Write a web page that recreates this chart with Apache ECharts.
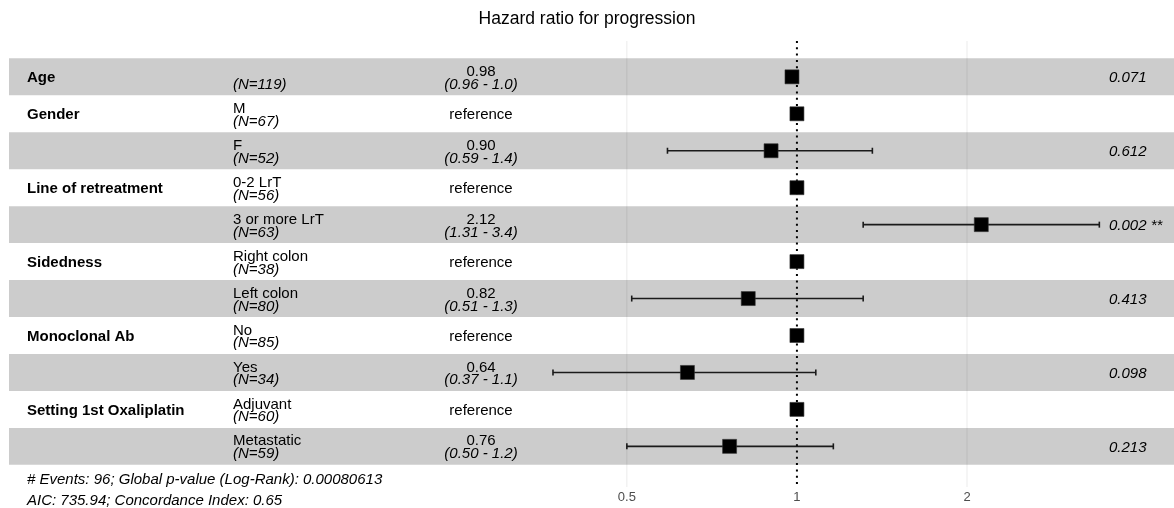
<!DOCTYPE html>
<html>
<head>
<meta charset="utf-8">
<script src="https://cdn.jsdelivr.net/npm/echarts@6/dist/echarts.min.js"></script>
<style>
html,body{margin:0;padding:0;background:#fff;}
#chart{width:1174px;height:508px;}
</style>
</head>
<body>
<div id="chart"></div>
<script>
// ---- data ----
const varNames = ['Age', 'Gender', '', 'Line of retreatment', '', 'Sidedness', '', 'Monoclonal Ab', '', 'Setting 1st Oxaliplatin', ''];
const levels = ['', 'M', 'F', '0-2 LrT', '3 or more LrT', 'Right colon', 'Left colon', 'No', 'Yes', 'Adjuvant', 'Metastatic'];
const nCounts = [119, 67, 52, 56, 63, 38, 80, 85, 34, 60, 59];
const hrValues = [0.98, 1, 0.90, 1, 2.12, 1, 0.82, 1, 0.64, 1, 0.76];
const ciLow = [0.96, null, 0.59, null, 1.31, null, 0.51, null, 0.37, null, 0.50];
const ciHigh = [1.00, null, 1.36, null, 3.43, null, 1.31, null, 1.08, null, 1.16];
const hrLabels = ['0.98', 'reference', '0.90', 'reference', '2.12', 'reference', '0.82', 'reference', '0.64', 'reference', '0.76'];
const ciLabels = ['(0.96 - 1.0)', '', '(0.59 - 1.4)', '', '(1.31 - 3.4)', '', '(0.51 - 1.3)', '', '(0.37 - 1.1)', '', '(0.50 - 1.2)'];
const pLabels = ['0.071', '', '0.612', '', '0.002 **', '', '0.413', '', '0.098', '', '0.213'];
const tickValues = [0.5, 1, 2];
const refValue = 1;
const titleText = 'Hazard ratio for progression';
const footerLines = ['# Events: 96; Global p-value (Log-Rank): 0.00080613', 'AIC: 735.94; Concordance Index: 0.65'];

// ---- layout / style ----
const FONT = "'Liberation Sans', Arial, Helvetica, sans-serif";
const COL_VAR = 27, COL_LEVEL = 233, COL_HR = 481, COL_P = 1109;
const LINE_OFF_UP = 5, LINE_OFF_DN = 7.8, SINGLE_OFF = 1;
const TXT = '#000';

const rowIdx = levels.map((_, i) => i + 1);
const grayRows = rowIdx.filter(r => r % 2 === 1);
const ciRows = rowIdx.filter((r, i) => ciLow[i] != null);

const chart = echarts.init(document.getElementById('chart'), null, {renderer: 'canvas'});

function txt(x, y, text, opt) {
  return {
    type: 'text', x: x, y: y, silent: true,
    style: Object.assign({
      text: text, fill: TXT, fontSize: 15, fontFamily: FONT,
      align: 'left', verticalAlign: 'middle'
    }, opt || {})
  };
}

const option = {
  animation: false,
  backgroundColor: '#fff',
  title: {
    text: titleText, left: 'center', top: 10, padding: 0,
    textStyle: {fontSize: 17.5, fontWeight: 'normal', color: '#000', fontFamily: FONT}
  },
  grid: {left: 9, right: 0, top: 41, bottom: 21},
  xAxis: {
    type: 'log', logBase: 2, min: 0.0403, max: 4.65,
    axisLine: {show: false}, axisTick: {show: false}, splitLine: {show: false},
    axisLabel: {
      customValues: tickValues, color: '#4d4d4d', fontSize: 13, fontFamily: FONT, margin: 4,
      formatter: v => String(v)
    }
  },
  yAxis: {type: 'value', inverse: true, min: 0.03, max: 12.1, show: false},
  graphic: footerLines.map((t, i) => ({
    type: 'text', left: 27, top: 472 + i * 21,
    style: {text: t, fill: TXT, fontSize: 15, fontStyle: 'italic', fontFamily: FONT}
  })),
  series: [
    { // vertical grid lines
      type: 'custom', z: 1, silent: true,
      data: tickValues.filter(v => v !== refValue).map(v => [v]),
      renderItem: (params, api) => {
        const cs = params.coordSys;
        const x = api.coord([api.value(0), 1])[0];
        return {type: 'line', shape: {x1: x, y1: cs.y, x2: x, y2: cs.y + cs.height},
                style: {stroke: '#ebebeb', lineWidth: 1}};
      }
    },
    { // shaded row bands
      type: 'custom', z: 2, silent: true,
      data: grayRows.map(r => [refValue, r]),
      renderItem: (params, api) => {
        const cs = params.coordSys;
        const y1 = api.coord([refValue, api.value(1) - 0.5])[1];
        const y2 = api.coord([refValue, api.value(1) + 0.5])[1];
        return {type: 'rect', shape: {x: cs.x, y: Math.min(y1, y2), width: cs.width, height: Math.abs(y2 - y1)},
                style: {fill: 'rgba(0,0,0,0.2)'}};
      }
    },
    { // dotted reference line at HR = 1
      type: 'custom', z: 3, silent: true,
      data: [[refValue]],
      renderItem: (params, api) => {
        const cs = params.coordSys;
        const x = api.coord([api.value(0), 1])[0];
        return {type: 'line', shape: {x1: x, y1: cs.y, x2: x, y2: cs.y + cs.height},
                style: {stroke: '#000', lineWidth: 2, lineDash: [2, 4.3], lineCap: 'butt'}};
      }
    },
    { // confidence intervals
      type: 'custom', z: 4, silent: true,
      data: ciRows.map(r => [ciLow[r - 1], ciHigh[r - 1], r]),
      renderItem: (params, api) => {
        const p1 = api.coord([api.value(0), api.value(2)]);
        const p2 = api.coord([api.value(1), api.value(2)]);
        const st = {stroke: '#1a1a1a', lineWidth: 1.6};
        return {type: 'group', children: [
          {type: 'line', shape: {x1: p1[0], y1: p1[1], x2: p2[0], y2: p2[1]}, style: st},
          {type: 'line', shape: {x1: p1[0], y1: p1[1] - 3, x2: p1[0], y2: p1[1] + 3}, style: st},
          {type: 'line', shape: {x1: p2[0], y1: p2[1] - 3, x2: p2[0], y2: p2[1] + 3}, style: st}
        ]};
      }
    },
    { // point estimates
      type: 'scatter', z: 5, silent: true,
      symbol: 'rect', symbolSize: 14,
      itemStyle: {color: '#000', borderColor: '#333', borderWidth: 0.6, opacity: 1},
      data: hrValues.map((v, i) => [v, i + 1])
    },
    { // table text
      type: 'custom', z: 6, silent: true,
      data: rowIdx.map(r => [refValue, r]),
      renderItem: (params, api) => {
        const r = api.value(1);
        const i = r - 1;
        const y = api.coord([refValue, r])[1];
        const ch = [];
        if (varNames[i]) ch.push(txt(COL_VAR, y + SINGLE_OFF, varNames[i], {fontWeight: 'bold'}));
        if (levels[i]) ch.push(txt(COL_LEVEL, y - LINE_OFF_UP, levels[i]));
        ch.push(txt(COL_LEVEL, y + LINE_OFF_DN, '(N=' + nCounts[i] + ')', {fontStyle: 'italic'}));
        if (ciLabels[i]) {
          ch.push(txt(COL_HR, y - LINE_OFF_UP, hrLabels[i], {align: 'center'}));
          ch.push(txt(COL_HR, y + LINE_OFF_DN, ciLabels[i], {align: 'center', fontStyle: 'italic'}));
        } else {
          ch.push(txt(COL_HR, y + SINGLE_OFF, hrLabels[i], {align: 'center'}));
        }
        if (pLabels[i]) ch.push(txt(COL_P, y + SINGLE_OFF, pLabels[i], {fontStyle: 'italic'}));
        return {type: 'group', children: ch};
      }
    }
  ]
};
chart.setOption(option);
</script>
</body>
</html>
